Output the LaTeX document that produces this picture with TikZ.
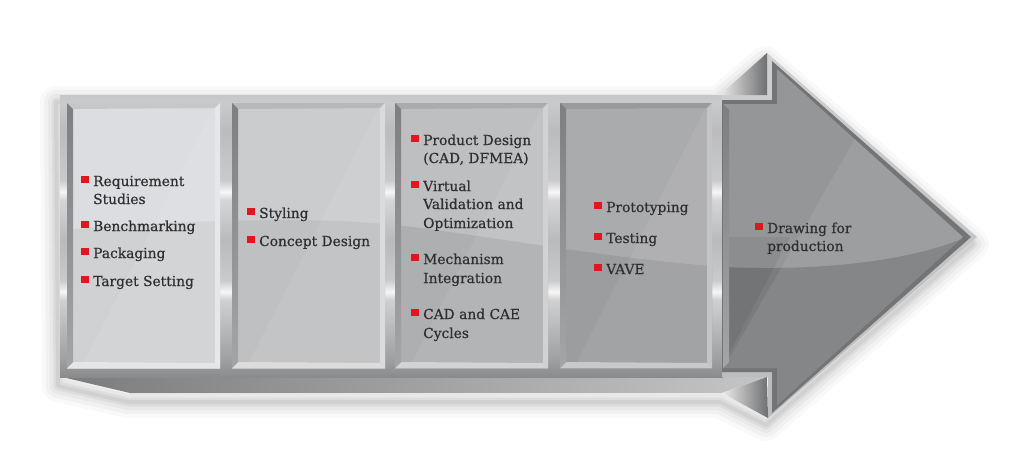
\documentclass[tikz,border=0pt]{standalone}
\usepackage{fontspec}
\setmainfont{DejaVu Serif}[BoldFont={DejaVu Serif},BoldFeatures={FakeBold=0.6}]
\usetikzlibrary{calc}
\definecolor{pA1}{HTML}{DCDDE0}\definecolor{pA2}{HTML}{D0D1D3}
\definecolor{pB1}{HTML}{CBCCCE}\definecolor{pB2}{HTML}{BFC0C2}
\definecolor{pC1}{HTML}{BEBFC1}\definecolor{pC2}{HTML}{AEAFB1}
\definecolor{pD1}{HTML}{AAABAD}\definecolor{pD2}{HTML}{9C9D9F}
\definecolor{pE1}{HTML}{959698}\definecolor{pE2}{HTML}{7B7C7E}
\definecolor{txt}{HTML}{2F2F2F}
\definecolor{bred}{HTML}{E3151F}
\definecolor{fA}{HTML}{8A8B8D}\definecolor{fB}{HTML}{9E9FA1}
\definecolor{fC}{HTML}{CFD0D2}\definecolor{fD}{HTML}{F6F6F6}
\definecolor{fE}{HTML}{C9CACC}\definecolor{fF}{HTML}{B9BABC}
\definecolor{fG}{HTML}{D5D6D8}\definecolor{fH}{HTML}{BBBCBE}
\definecolor{fI}{HTML}{C6C7C9}
\definecolor{bevTop}{HTML}{7E7F81}\definecolor{bevBot}{HTML}{A4A5A7}
\definecolor{dline}{HTML}{737476}
\definecolor{shelfL}{HTML}{7B7C7E}\definecolor{shelfR}{HTML}{C4C5C7}
\definecolor{notchD}{HTML}{6E6F71}
\pgfdeclareverticalshading{metalv}{100bp}{color(0bp)=(fA); color(25bp)=(fA); color(28bp)=(fB); color(38.7bp)=(fC); color(40.1bp)=(fD); color(42.2bp)=(fE); color(49.3bp)=(fF); color(56.4bp)=(fG); color(57.8bp)=(fD); color(59.9bp)=(fE); color(68.8bp)=(fH); color(73.6bp)=(fE); color(75bp)=(fI); color(100bp)=(fI)}
\newcommand{\bul}{\llap{\textcolor{bred}{\rule[3pt]{7.5pt}{7.5pt}}\hspace{4.5pt}}}
\def\silh{(58,95) -- (720,95) -- (767,55) -- (975,237) -- (768,418) -- (722,395) -- (130,395) -- (60,379) -- cycle}
\def\wave{(40,232) .. controls (150,222) and (300,215) .. (395,225) .. controls (480,234) and (600,258) .. (725,267) .. controls (830,272) and (920,258) .. (966,237) -- (1000,237) -- (1000,430) -- (40,430) -- cycle}
\newcommand{\drawpanel}[4]{%
  \fill[#3] (#1,103) rectangle (#2,368);
  \begin{scope}
    \clip (#1,103) rectangle (#2,368);
    \fill[#4] \wave;
    \fill[white,opacity=0.07] (#2-4,103) -- (#2+2,103) -- (#2+2,368) -- (#1+14,368) -- cycle;
  \end{scope}
  \fill[#3!90!black] (#1,103) -- (#2,103) -- (#2-5,108) -- (#1+6,109) -- cycle;
  \fill[#3!70!white] (#2,103) -- (#2,368) -- (#2-5,363) -- (#2-5,108) -- cycle;
  \fill[#4!55!white] (#1,368) -- (#1+6,362) -- (#2-5,363) -- (#2,368) -- cycle;
  \shade[top color=bevTop, bottom color=bevBot] (#1,103) -- (#1+6,109) -- (#1+6,362) -- (#1,368) -- cycle;
}
\begin{document}
\begin{tikzpicture}[x=1pt,y=-1pt,
  ln/.style={anchor=base west, inner sep=0pt, text=txt, font=\fontsize{13.8}{18}\selectfont\bfseries}]
\useasboundingbox (0,0) rectangle (1024,469);
\fill[white] (0,0) rectangle (1024,469);
% soft shadow
\begin{scope}[shift={(-2,7)}]
\foreach \w/\o in {32/0.025,24/0.03,16/0.035,9/0.045,4/0.05}{
  \draw[black,opacity=\o,line width=\w,line join=round] \silh;}
\end{scope}
% bottom shelf
\shade[left color=shelfL, right color=shelfR] (62,377) -- (767,377) -- (722,393) -- (130,393) -- cycle;
% frame
\shade[shading=metalv] (60,95) rectangle (723,377);
% arrow head band and dark line
\shade[top color=fC, bottom color=fF] (722,95) -- (767,95) -- (767,53) -- (977,237) -- (768,418) -- (768,377) -- (722,377) -- cycle;
\fill[dline] (722,100) -- (772,100) -- (772,61) -- (971,237) -- (772,413) -- (772,372) -- (722,372) -- cycle;
% notch triangles
\shade[left color=white!85!gray, middle color=white, right color=notchD] (720,95) -- (767,53) -- (767,95) -- cycle;
\shade[left color=white!85!gray, middle color=white, right color=notchD] (722,393) -- (767,377) -- (768,418) -- cycle;
% panels
\drawpanel{67}{220}{pA1}{pA2}
\drawpanel{232}{385}{pB1}{pB2}
\drawpanel{395}{548}{pC1}{pC2}
\drawpanel{560}{712}{pD1}{pD2}
% arrow panel
\begin{scope}
  \clip (723,104) -- (777,104) -- (777,69) -- (963,237) -- (777,405) -- (777,368) -- (723,368) -- cycle;
  \fill[pE1] (700,60) rectangle (1000,420);
  \fill[pE2] \wave;
  \fill[white,opacity=0.08] (900,60) -- (1000,60) -- (1000,420) -- (694,420) -- cycle;
  \fill[black,opacity=0.06] (723,237) -- (790,237) -- (694,420) -- (723,420) -- cycle;
\end{scope}
\shade[top color=bevTop, bottom color=bevBot] (723,104) -- (729,110) -- (729,362) -- (723,368) -- cycle;
% texts
\node[ln] (p1a) at (93,186) {\bul Requirement};
\node[ln] (p1b) at (93,204) {Studies};
\node[ln] (p1c) at (93,231) {\bul Benchmarking};
\node[ln] (p1d) at (93,258) {\bul Packaging};
\node[ln] (p1e) at (93,286) {\bul Target Setting};
\node[ln] (p2a) at (259,218) {\bul Styling};
\node[ln] (p2b) at (259,246) {\bul Concept Design};
\node[ln] (p3a) at (423,145) {\bul Product Design};
\node[ln] (p3b) at (423,163) {(CAD, DFMEA)};
\node[ln] (p3c) at (423,191) {\bul Virtual};
\node[ln] (p3d) at (423,209) {Validation and};
\node[ln] (p3e) at (423,228) {Optimization};
\node[ln] (p3f) at (423,264) {\bul Mechanism};
\node[ln] (p3g) at (423,283) {Integration};
\node[ln] (p3h) at (423,319) {\bul CAD and CAE};
\node[ln] (p3i) at (423,338) {Cycles};
\node[ln] (p4a) at (606,212) {\bul Prototyping};
\node[ln] (p4b) at (606,243) {\bul Testing};
\node[ln] (p4c) at (606,274) {\bul VAVE};
\node[ln] (p5a) at (767,233) {\bul Drawing for};
\node[ln] (p5b) at (767,251) {production};
\end{tikzpicture}
\end{document}
